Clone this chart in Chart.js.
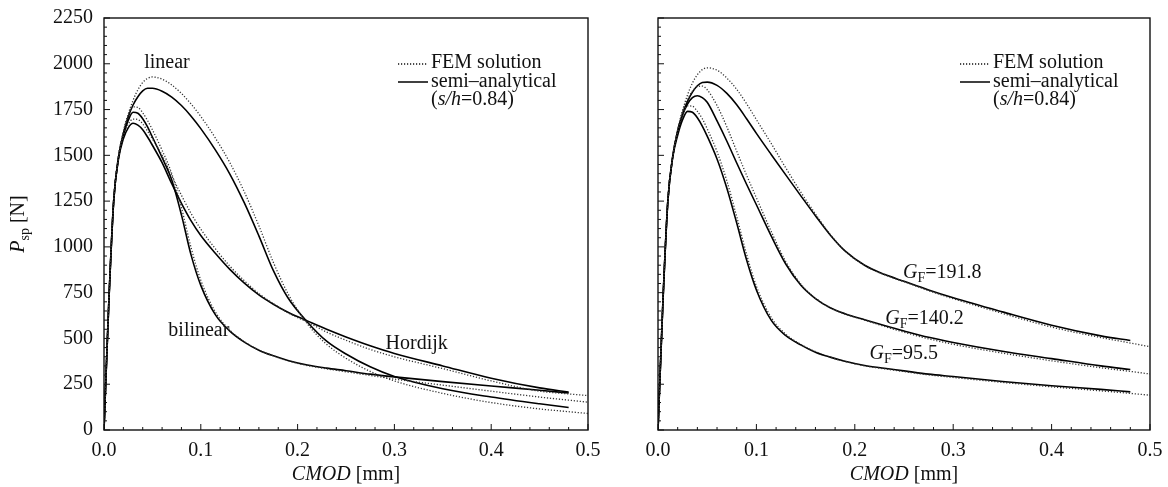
<!DOCTYPE html>
<html>
<head>
<meta charset="utf-8">
<script src="https://cdn.jsdelivr.net/npm/chart.js@4.4.0/dist/chart.umd.min.js"></script>
<style>
  body { margin: 0; background: #fff; }
  .wrap { position: relative; width: 1168px; height: 487px; }
  .panel { position: absolute; top: 0; height: 487px; }
  #left { left: 0; width: 600px; }
  #right { left: 600px; width: 568px; }
</style>
</head>
<body>
<div class="wrap">
  <div class="panel" id="left"><canvas id="leftChart" width="600" height="487"></canvas></div>
  <div class="panel" id="right"><canvas id="rightChart" width="568" height="487"></canvas></div>
</div>
<script>
//! Data (CMOD in mm, P_sp in N)
const cmod = [0, 0.005, 0.01, 0.015, 0.02, 0.025, 0.03, 0.035, 0.04, 0.045,
              0.05, 0.06, 0.07, 0.08, 0.09, 0.1, 0.115, 0.13, 0.145, 0.16,
              0.175, 0.19, 0.21, 0.23, 0.25, 0.275, 0.3, 0.35, 0.4, 0.45, 0.48, 0.5];

// left panel: softening laws
const linearSemi   = [0, 700, 1250, 1490, 1620, 1710, 1775, 1820, 1852, 1866, 1866, 1850, 1818, 1772, 1714, 1646, 1530, 1398, 1240, 1060, 870, 722, 590, 485, 415, 345, 292, 225, 180, 143, 123, null];
const linearFem    = [0, 700, 1250, 1495, 1630, 1725, 1800, 1858, 1898, 1920, 1928, 1916, 1884, 1838, 1780, 1712, 1595, 1460, 1300, 1115, 915, 745, 580, 468, 392, 320, 268, 200, 150, 115, 100, 90];
const bilinearSemi = [0, 700, 1250, 1490, 1610, 1690, 1735, 1730, 1700, 1655, 1600, 1488, 1365, 1175, 955, 790, 630, 540, 480, 436, 405, 380, 355, 338, 324, 305, 290, 264, 240, 217, 202, null];
const bilinearFem  = [0, 700, 1250, 1495, 1625, 1720, 1765, 1762, 1732, 1690, 1640, 1528, 1400, 1215, 995, 818, 645, 545, 482, 437, 405, 378, 352, 334, 318, 298, 278, 245, 212, 180, 163, 152];
const hordijkSemi  = [0, 700, 1250, 1480, 1590, 1650, 1675, 1665, 1640, 1600, 1555, 1460, 1345, 1238, 1142, 1062, 965, 877, 802, 738, 687, 643, 596, 550, 508, 460, 418, 350, 283, 230, 207, null];
const hordijkFem   = [0, 700, 1250, 1485, 1605, 1670, 1698, 1695, 1672, 1632, 1590, 1500, 1388, 1282, 1182, 1097, 990, 895, 815, 745, 690, 640, 590, 535, 490, 440, 400, 335, 268, 212, 197, 188];

// right panel: fracture energy G_F
const gf95Semi  = [0, 700, 1250, 1490, 1610, 1695, 1740, 1735, 1705, 1660, 1605, 1480, 1320, 1130, 930, 765, 600, 515, 465, 425, 398, 375, 352, 337, 323, 305, 292, 265, 242, 222, 208, null];
const gf95Fem   = [0, 700, 1250, 1495, 1625, 1725, 1770, 1768, 1740, 1700, 1645, 1520, 1360, 1165, 960, 785, 615, 522, 468, 428, 398, 374, 350, 334, 319, 301, 287, 260, 236, 214, 200, 190];
const gf140Semi = [0, 700, 1250, 1495, 1630, 1720, 1780, 1815, 1825, 1815, 1790, 1688, 1577, 1458, 1342, 1230, 1060, 905, 792, 718, 668, 635, 602, 571, 541, 506, 478, 430, 390, 350, 330, null];
const gf140Fem  = [0, 700, 1250, 1495, 1635, 1740, 1805, 1850, 1875, 1878, 1858, 1772, 1655, 1522, 1392, 1268, 1085, 918, 798, 720, 668, 633, 600, 566, 534, 498, 468, 420, 378, 340, 320, 306];
const gf191Semi = [0, 700, 1250, 1495, 1635, 1730, 1795, 1845, 1880, 1898, 1900, 1882, 1838, 1776, 1700, 1620, 1505, 1392, 1280, 1170, 1065, 978, 900, 850, 812, 765, 722, 645, 572, 514, 489, null];
const gf191Fem  = [0, 700, 1250, 1495, 1640, 1745, 1830, 1895, 1940, 1968, 1978, 1965, 1922, 1860, 1782, 1695, 1565, 1430, 1300, 1180, 1068, 978, 898, 848, 810, 761, 717, 637, 562, 505, 475, 455];

// axes
const xTicks = [0, 0.1, 0.2, 0.3, 0.4, 0.5];
const yTicks = [0, 250, 500, 750, 1000, 1250, 1500, 1750, 2000, 2250];
const xMinorStep = 0.02;
const yMinorStep = 50;

// curve labels (position in data units)
const leftLabels = [
    { parts: [{ t: 'linear' }], x: 0.065, y: 2004 },
    { parts: [{ t: 'bilinear' }], x: 0.098, y: 543 },
    { parts: [{ t: 'Hordijk' }], x: 0.323, y: 472 },
];
const rightLabels = [
    { parts: [{ t: 'G', i: true }, { t: 'F', sub: true }, { t: '=191.8' }], x: 0.249, y: 860, align: 'left' },
    { parts: [{ t: 'G', i: true }, { t: 'F', sub: true }, { t: '=140.2' }], x: 0.231, y: 609, align: 'left' },
    { parts: [{ t: 'G', i: true }, { t: 'F', sub: true }, { t: '=95.5' }], x: 0.215, y: 418, align: 'left' },
];

const FONT = '"Liberation Serif", "Times New Roman", serif';

function toPoints(vals) {
    return cmod.map((x, i) => ({ x: x, y: vals[i] })).filter(p => p.y !== null);
}

function femSet(label, vals) {
    return {
        label: label, data: toPoints(vals),
        borderColor: '#333', borderWidth: 1.3, borderDash: [1.2, 1.8],
        pointRadius: 0, cubicInterpolationMode: 'monotone', fill: false,
    };
}

function semiSet(label, vals) {
    return {
        label: label, data: toPoints(vals),
        borderColor: '#000', borderWidth: 1.6,
        pointRadius: 0, cubicInterpolationMode: 'monotone', fill: false,
    };
}

//! text helpers
function fontFor(p) {
    const size = p.sub ? 14 : 20;
    return (p.i ? 'italic ' : '') + size + 'px ' + FONT;
}

function drawRich(ctx, parts, x, y, align) {
    let w = 0;
    parts.forEach(p => { ctx.font = fontFor(p); w += ctx.measureText(p.t).width; });
    let cx = align === 'left' ? x : x - w / 2;
    ctx.textAlign = 'left';
    ctx.textBaseline = 'middle';
    parts.forEach(p => {
        ctx.font = fontFor(p);
        ctx.fillText(p.t, cx, p.sub ? y + 6 : y);
        cx += ctx.measureText(p.t).width;
    });
}

//! frame, inward ticks, legend, titles, labels
const decorPlugin = {
    id: 'decor',
    afterDraw(chart, args, opts) {
        const { ctx, chartArea: a, scales: { x, y } } = chart;
        ctx.save();
        ctx.strokeStyle = '#111';
        ctx.lineWidth = 1.4;
        ctx.strokeRect(a.left, a.top, a.right - a.left, a.bottom - a.top);

        ctx.lineWidth = 1;
        const nx = Math.round((x.max - x.min) / xMinorStep);
        for (let i = 0; i <= nx; i++) {
            const px = x.getPixelForValue(x.min + i * xMinorStep);
            const len = i % 5 === 0 ? 6 : 3;
            ctx.beginPath();
            ctx.moveTo(px, a.bottom);
            ctx.lineTo(px, a.bottom - len);
            ctx.stroke();
        }
        const ny = Math.round((y.max - y.min) / yMinorStep);
        for (let i = 0; i <= ny; i++) {
            const py = y.getPixelForValue(y.min + i * yMinorStep);
            const len = i % 5 === 0 ? 6 : 3;
            ctx.beginPath();
            ctx.moveTo(a.left, py);
            ctx.lineTo(a.left + len, py);
            ctx.stroke();
        }

        ctx.fillStyle = '#111';

        // legend
        const lx = a.right - 190;
        const ly = a.top + 45;
        ctx.lineWidth = 1.3;
        ctx.setLineDash([1.2, 1.8]);
        ctx.beginPath(); ctx.moveTo(lx, ly + 1); ctx.lineTo(lx + 30, ly + 1); ctx.stroke();
        ctx.setLineDash([]);
        ctx.lineWidth = 1.6;
        ctx.beginPath(); ctx.moveTo(lx, ly + 19); ctx.lineTo(lx + 30, ly + 19); ctx.stroke();
        drawRich(ctx, [{ t: 'FEM solution' }], lx + 33, ly, 'left');
        drawRich(ctx, [{ t: 'semi–analytical' }], lx + 33, ly + 19, 'left');
        drawRich(ctx, [{ t: '(' }, { t: 's/h', i: true }, { t: '=0.84)' }], lx + 33, ly + 37, 'left');

        // curve labels
        opts.labels.forEach(l => {
            drawRich(ctx, l.parts, x.getPixelForValue(l.x), y.getPixelForValue(l.y), l.align || 'center');
        });

        // x title
        drawRich(ctx, [{ t: 'CMOD', i: true }, { t: ' [mm]' }], (a.left + a.right) / 2, a.bottom + 45, 'center');

        // y title
        if (opts.yTitle) {
            ctx.translate(19, (a.top + a.bottom) / 2);
            ctx.rotate(-Math.PI / 2);
            drawRich(ctx, [{ t: 'P', i: true }, { t: 'sp', sub: true }, { t: ' [N]' }], 0, 0, 'center');
        }
        ctx.restore();
    }
};

function makePanel(canvasId, datasets, cfg) {
    return new Chart(document.getElementById(canvasId), {
        type: 'line',
        data: { datasets: datasets },
        options: {
            responsive: false,
            animation: false,
            devicePixelRatio: 1,
            layout: { padding: { top: 18, right: cfg.padRight, left: 0, bottom: 0 } },
            plugins: {
                legend: { display: false },
                tooltip: { enabled: false },
                decor: { labels: cfg.labels, yTitle: cfg.yTitle },
            },
            scales: {
                x: {
                    type: 'linear', min: 0, max: 0.5,
                    afterBuildTicks: s => { s.ticks = xTicks.map(v => ({ value: v })); },
                    afterFit: s => { s.height = 57; s.paddingLeft = 0; s.paddingRight = 0; },
                    grid: { display: false, drawTicks: false },
                    border: { display: false },
                    ticks: {
                        callback: v => v.toFixed(1),
                        font: { family: FONT, size: 20 },
                        color: '#111', padding: 9, maxRotation: 0, autoSkip: false,
                    },
                },
                y: {
                    type: 'linear', min: 0, max: 2250,
                    afterBuildTicks: s => { s.ticks = yTicks.map(v => ({ value: v })); },
                    afterFit: s => { s.width = cfg.yWidth; s.paddingTop = 0; s.paddingBottom = 0; },
                    grid: { display: false, drawTicks: false },
                    border: { display: false },
                    ticks: {
                        display: cfg.yTitle,
                        callback: v => String(v),
                        font: { family: FONT, size: 20 },
                        color: '#111', padding: 11,
                    },
                },
            },
        },
        plugins: [decorPlugin],
    });
}

const leftChart = makePanel('leftChart', [
    femSet('linear FEM', linearFem),
    femSet('bilinear FEM', bilinearFem),
    femSet('Hordijk FEM', hordijkFem),
    semiSet('linear semi-analytical', linearSemi),
    semiSet('bilinear semi-analytical', bilinearSemi),
    semiSet('Hordijk semi-analytical', hordijkSemi),
], { padRight: 12, yWidth: 104, labels: leftLabels, yTitle: true });

const rightChart = makePanel('rightChart', [
    femSet('GF 95.5 FEM', gf95Fem),
    femSet('GF 140.2 FEM', gf140Fem),
    femSet('GF 191.8 FEM', gf191Fem),
    semiSet('GF 95.5 semi-analytical', gf95Semi),
    semiSet('GF 140.2 semi-analytical', gf140Semi),
    semiSet('GF 191.8 semi-analytical', gf191Semi),
], { padRight: 18, yWidth: 58, labels: rightLabels, yTitle: false });
</script>
</body>
</html>
